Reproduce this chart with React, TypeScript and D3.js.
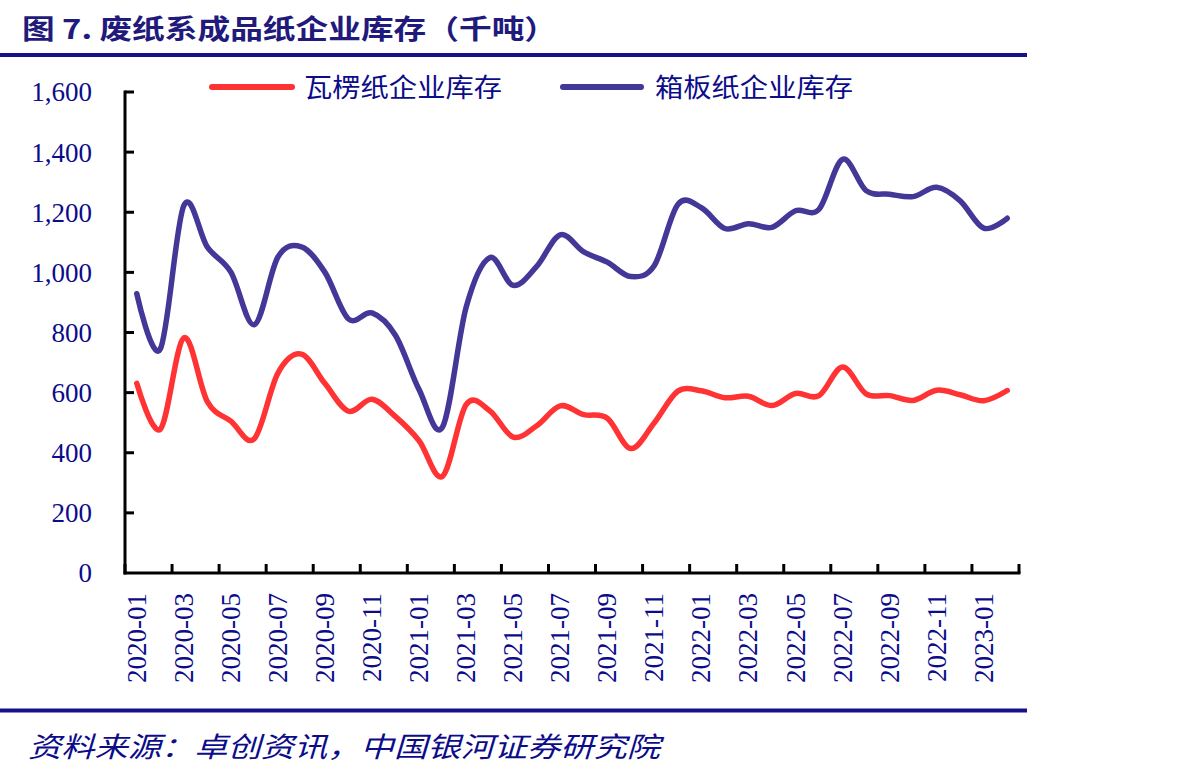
import React from "react";
import * as d3 from "d3";

// Monthly inventory (thousand tonnes), 2020-01 .. 2023-02
const months: string[] = [
  "2020-01", "2020-02", "2020-03", "2020-04", "2020-05", "2020-06", "2020-07", "2020-08", "2020-09", "2020-10", "2020-11", "2020-12",
  "2021-01", "2021-02", "2021-03", "2021-04", "2021-05", "2021-06", "2021-07", "2021-08", "2021-09", "2021-10", "2021-11", "2021-12",
  "2022-01", "2022-02", "2022-03", "2022-04", "2022-05", "2022-06", "2022-07", "2022-08", "2022-09", "2022-10", "2022-11", "2022-12",
  "2023-01", "2023-02",
];

const corrugated: number[] = [
  631, 478, 782, 570, 505, 447, 665, 728, 630, 538, 578, 520,
  440, 322, 560, 540, 452, 490, 556, 527, 515, 414, 500, 605,
  606, 583, 588, 557, 597, 590, 685, 596, 590, 574, 608, 593,
  573, 607,
];

const containerboard: number[] = [
  929, 745, 1222, 1084, 1001, 826, 1051, 1085, 1000, 845, 865, 790,
  610, 486, 884, 1049, 957, 1020, 1125, 1068, 1034, 986, 1023, 1226,
  1215, 1146, 1162, 1150, 1205, 1210, 1376, 1272, 1260, 1252, 1283, 1238,
  1147, 1180,
];

const yTicks: number[] = [0, 200, 400, 600, 800, 1000, 1200, 1400, 1600];
const xLabels: string[] = months.filter((_, i) => i % 2 === 0);

const seriesNames = ["瓦楞纸企业库存", "箱板纸企业库存"];
const titleText = "图 7. 废纸系成品纸企业库存（千吨）";
const sourceText = "资料来源：卓创资讯，中国银河证券研究院";

const W = 1203;
const H = 777;
const plot = { left: 125, right: 1019, top: 92, bottom: 573 };

const NAVY = "#0c0c8a";
const TITLE_NAVY = "#1f1a7c";
const RED = "#ff3333";
const BLUE = "#433797";
const CJK = "'Noto Sans CJK SC', 'Noto Sans', sans-serif";
const SERIF = "'Liberation Serif', 'Times New Roman', serif";

export default function App() {
  const x = d3.scaleBand<string>().domain(months).range([plot.left, plot.right]).padding(0);
  const y = d3.scaleLinear().domain([0, 1600]).range([plot.bottom, plot.top]);
  const cx = (m: string) => (x(m) as number) + x.bandwidth() / 2;

  const line = d3
    .line<number>()
    .x((_, i) => cx(months[i]))
    .y((v) => y(v))
    .curve(d3.curveCardinal.tension(0));

  const fmt = d3.format(",");

  // tick marks on category boundaries, every two months plus the right end
  const boundaryTicks: number[] = [];
  for (let i = 0; i <= months.length; i += 2) {
    boundaryTicks.push(plot.left + i * x.step());
  }

  return (
    <svg
      width={W}
      height={H}
      viewBox={`0 0 ${W} ${H}`}
      style={{ position: "absolute", left: 0, top: 0, background: "#fff" }}
    >
      {/* title */}
      <text
        x={22}
        y={39}
        fontFamily={CJK}
        fontWeight={700}
        fontSize={27}
        fill={TITLE_NAVY}
        textLength={535}
        lengthAdjust="spacingAndGlyphs"
      >
        {titleText}
      </text>
      <rect x={0} y={53} width={1027} height={4} fill="#15128a" />

      {/* legend */}
      <line x1={212} x2={292} y1={87} y2={87} stroke={RED} strokeWidth={6} strokeLinecap="round" />
      <text x={304} y={97} fontFamily={CJK} fontSize={26} fill={NAVY} textLength={198} lengthAdjust="spacingAndGlyphs">
        {seriesNames[0]}
      </text>
      <line x1={563} x2={641} y1={87} y2={87} stroke={BLUE} strokeWidth={6} strokeLinecap="round" />
      <text x={655} y={97} fontFamily={CJK} fontSize={26} fill={NAVY} textLength={198} lengthAdjust="spacingAndGlyphs">
        {seriesNames[1]}
      </text>

      {/* y axis */}
      <line x1={plot.left} x2={plot.left} y1={plot.top - 1.5} y2={plot.bottom + 1.5} stroke="#000" strokeWidth={3} />
      {yTicks.map((t) => (
        <g key={t}>
          {t > 0 && (
            <line x1={plot.left} x2={plot.left + 9} y1={y(t)} y2={y(t)} stroke="#000" strokeWidth={3} />
          )}
          <text
            x={92}
            y={y(t)}
            dy="0.35em"
            textAnchor="end"
            fontFamily={SERIF}
            fontSize={27}
            fill={NAVY}
          >
            {fmt(t)}
          </text>
        </g>
      ))}

      {/* x axis */}
      <line x1={plot.left - 1.5} x2={plot.right + 1.5} y1={plot.bottom} y2={plot.bottom} stroke="#000" strokeWidth={3} />
      {boundaryTicks.map((bx, i) => (
        <line key={i} x1={bx} x2={bx} y1={plot.bottom} y2={plot.bottom - 9} stroke="#000" strokeWidth={3} />
      ))}
      {xLabels.map((m) => (
        <text
          key={m}
          transform={`translate(${cx(m)},593) rotate(-90)`}
          textAnchor="end"
          dominantBaseline="central"
          fontFamily={SERIF}
          fontSize={27}
          fill={NAVY}
        >
          {m}
        </text>
      ))}

      {/* series */}
      <path d={line(corrugated) ?? ""} fill="none" stroke={RED} strokeWidth={5.5} strokeLinecap="round" strokeLinejoin="round" />
      <path d={line(containerboard) ?? ""} fill="none" stroke={BLUE} strokeWidth={5.5} strokeLinecap="round" strokeLinejoin="round" />

      {/* source */}
      <rect x={0} y={708.5} width={1027} height={4} fill="#15128a" />
      <text
        x={28}
        y={757}
        fontFamily={CJK}
        fontStyle="italic"
        fontSize={28}
        fill={NAVY}
        textLength={632}
        lengthAdjust="spacingAndGlyphs"
      >
        {sourceText}
      </text>
    </svg>
  );
}
